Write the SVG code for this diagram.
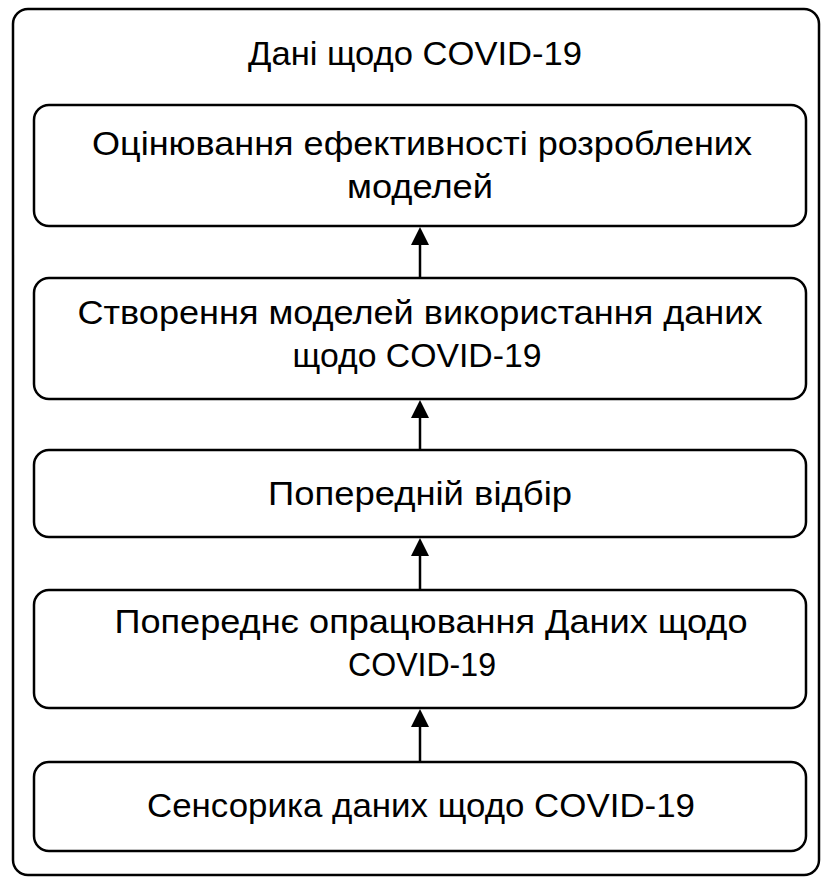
<svg xmlns="http://www.w3.org/2000/svg" width="822" height="878" viewBox="0 0 822 878">
<style>
.frame{fill:#fff;stroke:#000;stroke-width:2.5}
.box{fill:#fff;stroke:#000;stroke-width:2.5}
.t{font-family:"Liberation Sans",Arial,sans-serif;font-size:33px;fill:#000;text-anchor:middle}
.c{stroke:#000;stroke-width:2.5;fill:none}
</style>
<rect width="822" height="878" fill="#fff"/>
<g id="frame">
<rect class="frame" x="13" y="9" width="806" height="866" rx="15"/>
<text class="t" x="415" y="65" textLength="334" lengthAdjust="spacingAndGlyphs">Дані щодо COVID-19</text>
</g>
<g id="n1">
<rect class="box" x="34" y="105" width="772" height="121" rx="15"/>
<text class="t" x="422" y="155" textLength="660" lengthAdjust="spacingAndGlyphs">Оцінювання ефективності розроблених</text>
<text class="t" x="420" y="198" textLength="146" lengthAdjust="spacingAndGlyphs">моделей</text>
</g>
<g id="n2">
<rect class="box" x="34" y="278" width="772" height="121" rx="15"/>
<text class="t" x="420" y="324" textLength="685" lengthAdjust="spacingAndGlyphs">Створення моделей використання даних</text>
<text class="t" x="417" y="367" textLength="249" lengthAdjust="spacingAndGlyphs">щодо COVID-19</text>
</g>
<g id="n3">
<rect class="box" x="34" y="450" width="772" height="87" rx="15"/>
<text class="t" x="420" y="505" textLength="304" lengthAdjust="spacingAndGlyphs">Попередній відбір</text>
</g>
<g id="n4">
<rect class="box" x="34" y="590" width="772" height="118" rx="15"/>
<text class="t" x="431" y="633" textLength="633" lengthAdjust="spacingAndGlyphs">Попереднє опрацювання Даних щодо</text>
<text class="t" x="422" y="676" textLength="148" lengthAdjust="spacingAndGlyphs">COVID-19</text>
</g>
<g id="n5">
<rect class="box" x="34" y="762" width="772" height="89" rx="15"/>
<text class="t" x="421" y="817" textLength="548" lengthAdjust="spacingAndGlyphs">Сенсорика даних щодо COVID-19</text>
</g>
<g id="connectors">
<g fill="#000">
<line class="c" x1="420" y1="278" x2="420" y2="240"/>
<path d="M420,227 L411,245 L429,245 Z"/>
<line class="c" x1="420" y1="450" x2="420" y2="413"/>
<path d="M420,400 L411,418 L429,418 Z"/>
<line class="c" x1="420" y1="590" x2="420" y2="551"/>
<path d="M420,538 L411,556 L429,556 Z"/>
<line class="c" x1="420" y1="762" x2="420" y2="722"/>
<path d="M420,709 L411,727 L429,727 Z"/>
</g>
</g>
</svg>
